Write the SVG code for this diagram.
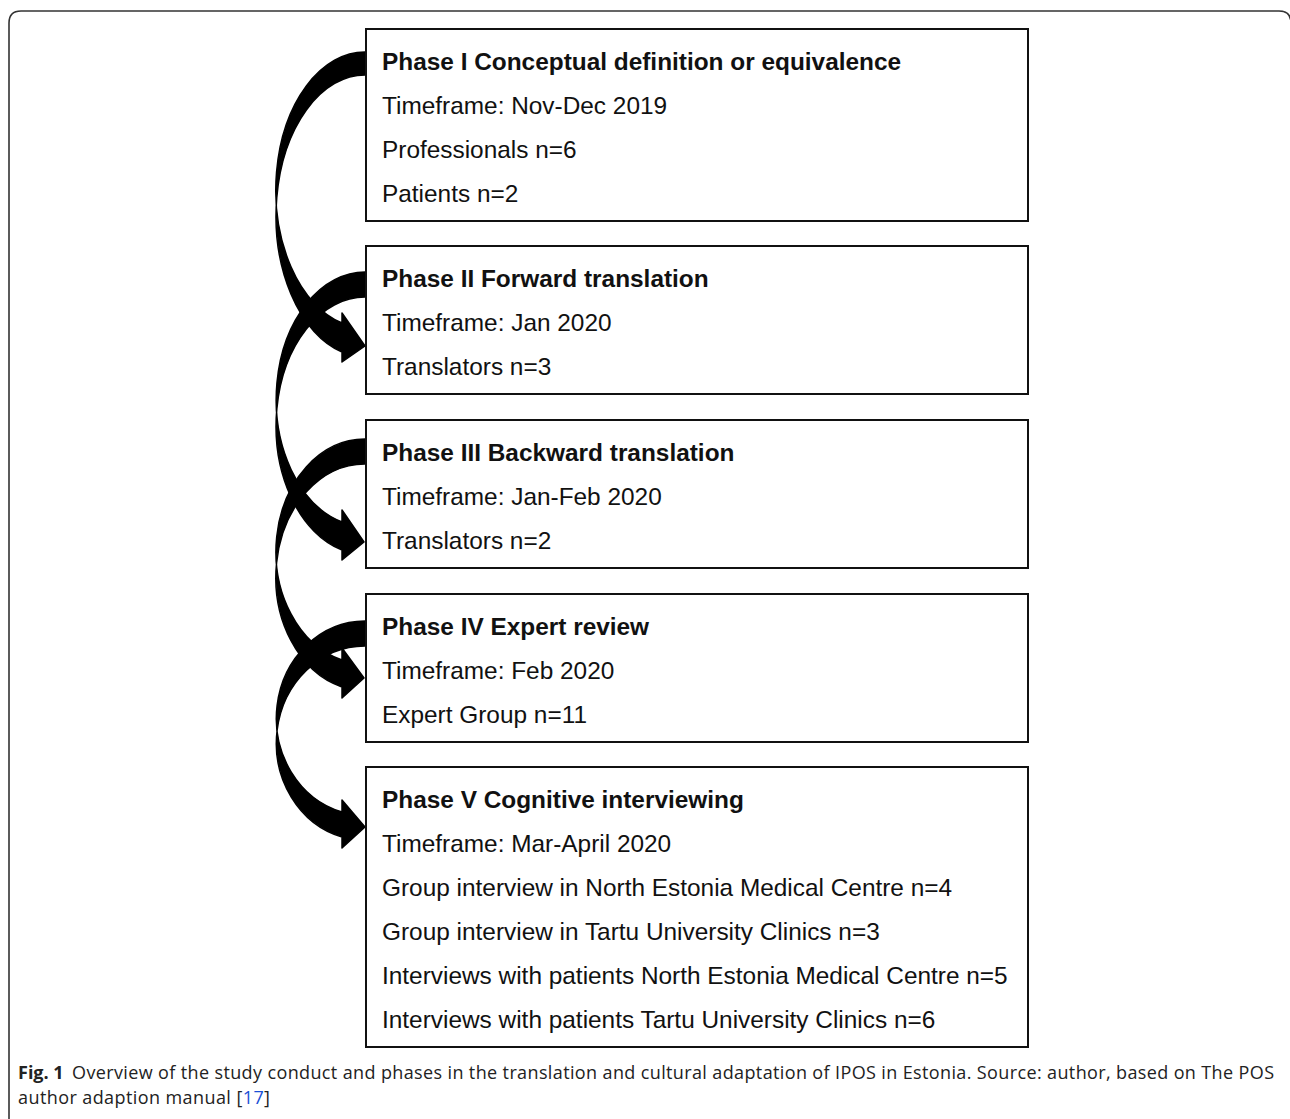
<svg xmlns="http://www.w3.org/2000/svg" width="1290" height="1119" viewBox="0 0 1290 1119">
<style>
.box{fill:#fff;stroke:#111;stroke-width:2}
.t{font-family:"Liberation Sans",Arial,sans-serif;font-size:24.4px;fill:#111}
.b{font-weight:bold}
.arr{fill:#000;stroke:#000;stroke-width:1.5;stroke-linejoin:round}
.cap{font-family:"Open Sans","Noto Sans",sans-serif;font-size:18px;fill:#222}
</style>
<rect width="1290" height="1119" fill="#fff"/>
<path d="M9,1119 V23 Q9,11 21,11 H1279 Q1291,11 1291,23 V1119" fill="none" stroke="#333" stroke-width="1.6"/>
<g id="connectors">
<path class="arr" d="M365,52 A89,137.8 0 0 0 342,323 L342,313 L365,346 L342,362 L342,352 A89,140.9 0 0 1 365,75 Z"/>
<path class="arr" d="M365,272 A89,127.2 0 0 0 342,522 L342,510 L364,542 L342,560 L342,550 A89,128.7 0 0 1 365,297 Z"/>
<path class="arr" d="M365,439 A89,112.4 0 0 0 342,660 L342,648 L364,678 L342,698 L342,687 A89,113.4 0 0 1 365,464 Z"/>
<path class="arr" d="M365,621 A89,97.2 0 0 0 342,812 L342,800 L365,827 L342,848 L342,837 A89,97.2 0 0 1 365,646 Z"/>
</g>
<g id="phase1">
<rect class="box" x="366" y="29" width="662" height="192"/>
<text class="t b" x="382" y="70">Phase I Conceptual definition or equivalence</text>
<text class="t" x="382" y="114">Timeframe: Nov-Dec 2019</text>
<text class="t" x="382" y="158">Professionals n=6</text>
<text class="t" x="382" y="202">Patients n=2</text>
</g>
<g id="phase2">
<rect class="box" x="366" y="246" width="662" height="148"/>
<text class="t b" x="382" y="287">Phase II Forward translation</text>
<text class="t" x="382" y="331">Timeframe: Jan 2020</text>
<text class="t" x="382" y="375">Translators n=3</text>
</g>
<g id="phase3">
<rect class="box" x="366" y="420" width="662" height="148"/>
<text class="t b" x="382" y="461">Phase III Backward translation</text>
<text class="t" x="382" y="505">Timeframe: Jan-Feb 2020</text>
<text class="t" x="382" y="549">Translators n=2</text>
</g>
<g id="phase4">
<rect class="box" x="366" y="594" width="662" height="148"/>
<text class="t b" x="382" y="635">Phase IV Expert review</text>
<text class="t" x="382" y="679">Timeframe: Feb 2020</text>
<text class="t" x="382" y="723">Expert Group n=11</text>
</g>
<g id="phase5">
<rect class="box" x="366" y="767" width="662" height="280"/>
<text class="t b" x="382" y="808">Phase V Cognitive interviewing</text>
<text class="t" x="382" y="852">Timeframe: Mar-April 2020</text>
<text class="t" x="382" y="896">Group interview in North Estonia Medical Centre n=4</text>
<text class="t" x="382" y="940">Group interview in Tartu University Clinics n=3</text>
<text class="t" x="382" y="984">Interviews with patients North Estonia Medical Centre n=5</text>
<text class="t" x="382" y="1028">Interviews with patients Tartu University Clinics n=6</text>
</g>
<g id="caption">
<text class="cap" x="18" y="1079" font-weight="bold">Fig. 1</text>
<text class="cap" x="72" y="1079" textLength="1202" lengthAdjust="spacing">Overview of the study conduct and phases in the translation and cultural adaptation of IPOS in Estonia. Source: author, based on The POS</text>
<text class="cap" x="18" y="1104" textLength="252" lengthAdjust="spacing">author adaption manual [<tspan fill="#1a4fd6">17</tspan>]</text>
</g>
</svg>
